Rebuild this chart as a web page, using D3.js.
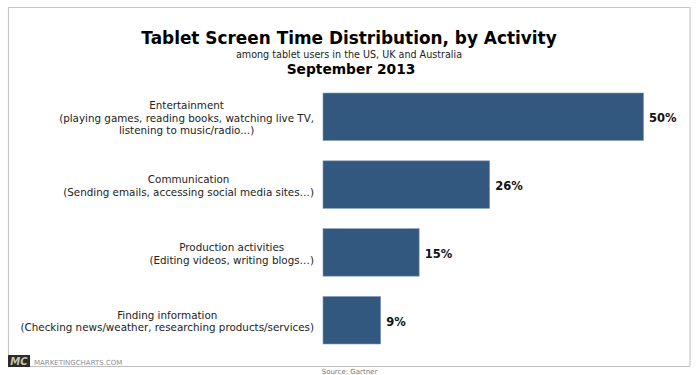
<!DOCTYPE html>
<html><head><meta charset="utf-8">
<script src="https://cdn.jsdelivr.net/npm/d3@7"></script>
<style>
html,body{margin:0;padding:0;background:#fff;overflow:hidden}
text{font-family:"DejaVu Sans",Verdana,sans-serif}
</style></head><body>
<svg id="c" width="700" height="375"></svg>
<script>
const categories = ["Entertainment","Communication","Production activities","Finding information"];
const values = [50,26,15,9];
const labelLines = [
  ["Entertainment","(playing games, reading books, watching live TV,","listening to music/radio...)"],
  ["Communication","(Sending emails, accessing social media sites…)"],
  ["Production activities","(Editing videos, writing blogs…)"],
  ["Finding information","(Checking news/weather, researching products/services)"]
];
const title = "Tablet Screen Time Distribution, by Activity";
const subtitle = "among tablet users in the US, UK and Australia";
const dateLine = "September 2013";
const brand = "MARKETINGCHARTS.COM";
const source = "Source: Gartner";

const svg = d3.select("#c");
const x = d3.scaleLinear().domain([0,50]).range([323,643.5]);
const y = d3.scaleBand().domain(categories).range([93,344]).paddingInner(0.3).paddingOuter(0);

// frame
svg.append("path").attr("d","M8.5,366.5V7.5H690V366").attr("fill","none").attr("stroke","#c8c8c4").attr("stroke-width",1.2);
svg.append("line").attr("x1",8).attr("x2",690).attr("y1",366.5).attr("y2",366.5).attr("stroke","#bdbdbd").attr("stroke-width",1);

// titles
svg.append("text").attr("x",349).attr("y",43.5).attr("text-anchor","middle").attr("font-size",16.9).attr("font-weight","bold").attr("fill","#000").text(title);
svg.append("text").attr("x",349).attr("y",58).attr("text-anchor","middle").attr("font-size",9.6).attr("fill","#222").text(subtitle);
svg.append("text").attr("x",351).attr("y",74).attr("text-anchor","middle").attr("font-size",13.8).attr("font-weight","bold").attr("fill","#000").text(dateLine);

// bars
svg.append("g").selectAll("rect").data(categories).join("rect")
  .attr("x",x(0)).attr("y",d=>y(d))
  .attr("width",(d,i)=>x(values[i])-x(0)).attr("height",y.bandwidth())
  .attr("fill","#325880").attr("stroke","#7f9ab8").attr("stroke-width",0.6);

// value labels
svg.append("g").selectAll("text").data(categories).join("text")
  .attr("x",(d,i)=>x(values[i])+5.5).attr("y",d=>y(d)+y.bandwidth()/2+5.5)
  .attr("font-size",11.5).attr("font-weight","bold").attr("fill","#111")
  .text((d,i)=>values[i]+"%");

// category labels: each block is centred on itself and right-aligned as a block
const lh = 12.4, rightEdge = 314;
categories.forEach((c,i)=>{
  const lines = labelLines[i];
  const cy = y(c)+y.bandwidth()/2;
  const t = svg.append("text").attr("text-anchor","middle").attr("font-size",10.35).attr("fill","#222");
  const spans = lines.map((l,j)=>t.append("tspan").attr("y",cy+5+(j-(lines.length-1)/2)*lh).text(l));
  const widest = d3.max(spans,s=>s.node().getComputedTextLength());
  spans.forEach(s=>s.attr("x",rightEdge-widest/2));
});

// brand
svg.append("rect").attr("x",8).attr("y",355).attr("width",22).attr("height",12).attr("fill","#2b2b2b");
svg.append("text").attr("x",19).attr("y",365).attr("text-anchor","middle").attr("font-size",10).attr("font-weight","bold").attr("font-style","italic").attr("fill","#c9c2a8").text("MC");
svg.append("text").attr("x",34).attr("y",364.5).attr("font-size",7).attr("fill","#8a8f96").text(brand);
svg.append("text").attr("x",349.5).attr("y",374).attr("text-anchor","middle").attr("font-size",7).attr("fill","#777").text(source);
</script>
</body></html>
